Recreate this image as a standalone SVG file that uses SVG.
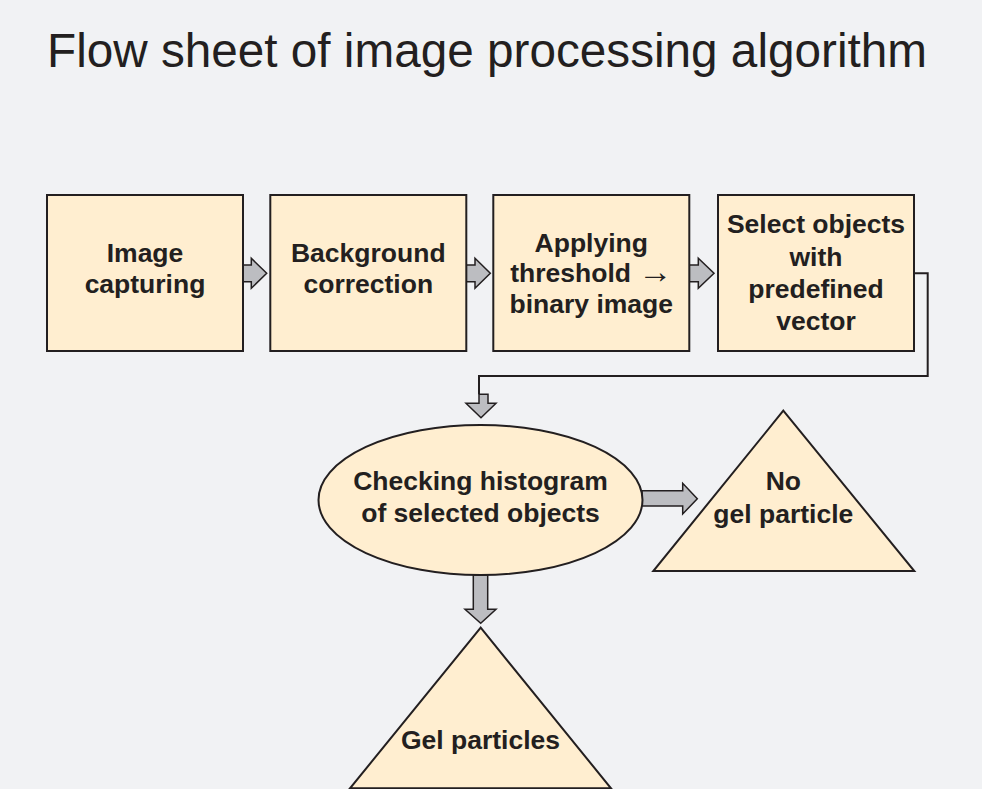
<svg xmlns="http://www.w3.org/2000/svg" width="982" height="789" viewBox="0 0 982 789">
  <style>
    .bg { fill: #f1f2f4; }
    .node { fill: #ffeed0; stroke: #231f20; stroke-width: 2; }
    .arrow { fill: #bcbdc1; stroke: #231f20; stroke-width: 1.5; stroke-linejoin: miter; }
    .wire { fill: none; stroke: #231f20; stroke-width: 2; }
    .title { font-family: "Liberation Sans", Arial, sans-serif; font-size: 48px; fill: #231f20; }
    .label { font-family: "Liberation Sans", Arial, sans-serif; font-size: 26.5px; font-weight: bold; fill: #231f20; text-anchor: middle; }
    .sym { font-family: "Liberation Serif", "DejaVu Serif", serif; font-weight: normal; font-size: 34px; }
  </style>

  <rect class="bg" x="0" y="0" width="982" height="789"/>

  <text class="title" x="47" y="67" textLength="880" lengthAdjust="spacingAndGlyphs">Flow sheet of image processing algorithm</text>

  <!-- connectors -->
  <g id="connectors">
    <!-- block arrows between the top row of boxes -->
    <path class="arrow" d="M243,265 H251.3 V258.3 L266.7,273.3 L251.3,288.3 V281.7 H243 Z"/>
    <path class="arrow" d="M466.3,265 H475 V258.3 L490.3,273.3 L475,288.3 V281.7 H466.3 Z"/>
    <path class="arrow" d="M689.3,265 H698.3 V258.3 L714,273.3 L698.3,288.3 V281.7 H689.3 Z"/>
    <!-- return line from the last box down to the histogram check -->
    <path class="wire" d="M914,273.3 H927.7 V376 H479 V394.3"/>
    <path class="arrow" d="M479,394.3 H488 V403.3 H496 L481,417.7 L466,403.3 H479 Z"/>
    <!-- histogram check outcomes -->
    <path class="arrow" d="M642,490.7 H682.7 V483.3 L697.3,498.7 L682.7,514 V506 H642 Z"/>
    <path class="arrow" d="M473.3,575 H487.7 V609.3 H496 L480.7,623.3 L465,609.3 H473.3 Z"/>
  </g>

  <g id="image-capturing">
    <rect class="node" x="47" y="195" width="196" height="156"/>
    <text class="label" x="145" y="261.7">Image</text>
    <text class="label" x="145" y="293.3">capturing</text>
  </g>

  <g id="background-correction">
    <rect class="node" x="270.3" y="195" width="196" height="156"/>
    <text class="label" x="368.3" y="261.7">Background</text>
    <text class="label" x="368.3" y="293.3">correction</text>
  </g>

  <g id="applying-threshold">
    <rect class="node" x="493.3" y="195" width="196" height="156"/>
    <text class="label" x="591.3" y="251.7">Applying</text>
    <text class="label" x="591.3" y="281.7">threshold <tspan class="sym" dy="1.5">→</tspan></text>
    <text class="label" x="591.3" y="313.3">binary image</text>
  </g>

  <g id="select-objects">
    <rect class="node" x="718" y="195" width="196" height="156"/>
    <text class="label" x="816" y="233.3">Select objects</text>
    <text class="label" x="816" y="266">with</text>
    <text class="label" x="816" y="298.3">predefined</text>
    <text class="label" x="816" y="330">vector</text>
  </g>

  <g id="checking-histogram">
    <ellipse class="node" cx="480.5" cy="500" rx="162" ry="75"/>
    <text class="label" x="480.5" y="490">Checking histogram</text>
    <text class="label" x="480.5" y="522.3">of selected objects</text>
  </g>

  <g id="no-gel-particle">
    <polygon class="node" points="783.3,410.7 914.3,571 653.3,571"/>
    <text class="label" x="783.3" y="490">No</text>
    <text class="label" x="783.3" y="522.7">gel particle</text>
  </g>

  <g id="gel-particles">
    <polygon class="node" points="480.7,627.7 611,788.3 350,788.3"/>
    <text class="label" x="480.5" y="749">Gel particles</text>
  </g>
</svg>
